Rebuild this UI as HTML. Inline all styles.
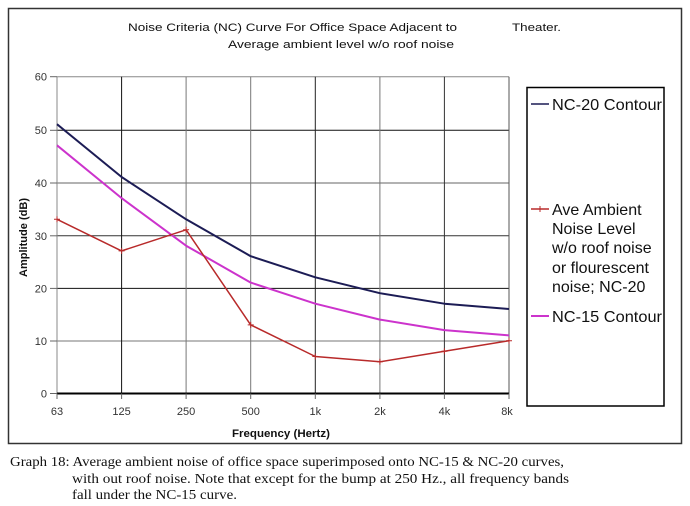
<!DOCTYPE html>
<html><head><meta charset="utf-8"><style>
html,body{margin:0;padding:0;background:#fff;}
svg{display:block;}
</style></head><body>
<svg width="690" height="506" viewBox="0 0 690 506" xmlns="http://www.w3.org/2000/svg">
<rect x="0" y="0" width="690" height="506" fill="#fff"/>
<!-- outer chart frame -->
<rect x="8.5" y="8.5" width="673" height="435" fill="#fff" stroke="#333" stroke-width="1.5"/>
<!-- title -->
<g font-family="Liberation Sans, sans-serif" font-size="11" fill="#111">
<text x="128" y="31" textLength="329" lengthAdjust="spacingAndGlyphs">Noise Criteria (NC) Curve For Office Space Adjacent to</text>
<text x="512" y="31" textLength="49" lengthAdjust="spacingAndGlyphs">Theater.</text>
<text x="228" y="48" textLength="226" lengthAdjust="spacingAndGlyphs">Average ambient level w/o roof noise</text>
</g>
<!-- gridlines -->
<g stroke-width="1">
<line x1="57" y1="76.7" x2="509" y2="76.7" stroke="#888"/>
<line x1="57" y1="130.3" x2="509" y2="130.3" stroke="#111"/>
<line x1="57" y1="183" x2="509" y2="183" stroke="#666"/>
<line x1="57" y1="235.8" x2="509" y2="235.8" stroke="#333"/>
<line x1="57" y1="288.4" x2="509" y2="288.4" stroke="#111"/>
<line x1="57" y1="341" x2="509" y2="341" stroke="#777"/>
<line x1="121.6" y1="76.7" x2="121.6" y2="393.5" stroke="#111"/>
<line x1="186.1" y1="76.7" x2="186.1" y2="393.5" stroke="#777"/>
<line x1="250.7" y1="76.7" x2="250.7" y2="393.5" stroke="#777"/>
<line x1="315.3" y1="76.7" x2="315.3" y2="393.5" stroke="#222"/>
<line x1="379.9" y1="76.7" x2="379.9" y2="393.5" stroke="#777"/>
<line x1="444.4" y1="76.7" x2="444.4" y2="393.5" stroke="#333"/>
<line x1="509" y1="76.7" x2="509" y2="393.5" stroke="#555"/>
<line x1="57" y1="76.7" x2="57" y2="393.5" stroke="#888"/>
<line x1="57" y1="393.5" x2="509" y2="393.5" stroke="#000" stroke-width="2"/>
</g>
<!-- ticks -->
<g stroke="#666" stroke-width="1">
<line x1="50" y1="76.7" x2="57" y2="76.7"/>
<line x1="50" y1="130.3" x2="57" y2="130.3"/>
<line x1="50" y1="183" x2="57" y2="183"/>
<line x1="50" y1="235.8" x2="57" y2="235.8"/>
<line x1="50" y1="288.4" x2="57" y2="288.4"/>
<line x1="50" y1="341" x2="57" y2="341"/>
<line x1="50" y1="393.5" x2="57" y2="393.5"/>
<line x1="57" y1="393.5" x2="57" y2="399"/>
<line x1="121.6" y1="393.5" x2="121.6" y2="399"/>
<line x1="186.1" y1="393.5" x2="186.1" y2="399"/>
<line x1="250.7" y1="393.5" x2="250.7" y2="399"/>
<line x1="315.3" y1="393.5" x2="315.3" y2="399"/>
<line x1="379.9" y1="393.5" x2="379.9" y2="399"/>
<line x1="444.4" y1="393.5" x2="444.4" y2="399"/>
<line x1="509" y1="393.5" x2="509" y2="399"/>
</g>
<!-- y tick labels -->
<g font-family="Liberation Sans, sans-serif" font-size="11" fill="#333" text-anchor="end">
<text x="47" y="80.5">60</text>
<text x="47" y="134">50</text>
<text x="47" y="187">40</text>
<text x="47" y="240">30</text>
<text x="47" y="292.5">20</text>
<text x="47" y="345">10</text>
<text x="47" y="397.5">0</text>
</g>
<!-- x tick labels -->
<g font-family="Liberation Sans, sans-serif" font-size="11" fill="#333" text-anchor="middle">
<text x="57" y="415">63</text>
<text x="121.6" y="415">125</text>
<text x="186.1" y="415">250</text>
<text x="250.7" y="415">500</text>
<text x="315.3" y="415">1k</text>
<text x="379.9" y="415">2k</text>
<text x="444.4" y="415">4k</text>
<text x="507" y="415">8k</text>
</g>
<!-- axis titles -->
<text x="232" y="437" font-family="Liberation Sans, sans-serif" font-size="11" font-weight="bold" fill="#111" textLength="98" lengthAdjust="spacingAndGlyphs">Frequency (Hertz)</text>
<text transform="translate(27,277) rotate(-90)" x="0" y="0" font-family="Liberation Sans, sans-serif" font-size="11" font-weight="bold" fill="#111" textLength="79" lengthAdjust="spacingAndGlyphs">Amplitude (dB)</text>
<!-- series -->
<polyline fill="none" stroke="#1c1c55" stroke-width="2" stroke-linejoin="round" points="57,124.2 121.6,177 186.1,219.3 250.7,256.2 315.3,277.3 379.9,293.2 444.4,303.7 509,309"/>
<polyline fill="none" stroke="#cc33cc" stroke-width="2" stroke-linejoin="round" points="57,145.3 121.6,198.1 186.1,245.7 250.7,282.6 315.3,303.7 379.9,319.6 444.4,330.1 509,335.4"/>
<polyline fill="none" stroke="#b82a2a" stroke-width="1.5" stroke-linejoin="round" points="57,219.3 121.6,250.9 186.1,229.8 250.7,324.9 315.3,356.5 379.9,361.8 444.4,351.3 509,340.7"/>
<g stroke="#b82a2a" stroke-width="1">
<path d="M54,219.3h6M57,216.3v6"/>
<path d="M118.6,250.9h6M121.6,247.9v6"/>
<path d="M183.1,229.8h6M186.1,226.8v6"/>
<path d="M247.7,324.9h6M250.7,321.9v6"/>
<path d="M312.3,356.5h6M315.3,353.5v6"/>
<path d="M376.9,361.8h6M379.9,358.8v6"/>
<path d="M441.4,351.3h6M444.4,348.3v6"/>
<path d="M506,340.7h6M509,337.7v6"/>
</g>
<!-- legend -->
<rect x="527" y="87.5" width="137" height="318.5" fill="#fff" stroke="#000" stroke-width="1.5"/>
<line x1="531" y1="104" x2="549" y2="104" stroke="#1c1c55" stroke-width="1.5"/>
<line x1="531" y1="209" x2="549" y2="209" stroke="#b82a2a" stroke-width="1.5"/>
<path d="M537,209h6M540,206v6" stroke="#b82a2a" stroke-width="1"/>
<line x1="531" y1="316" x2="549" y2="316" stroke="#cc33cc" stroke-width="2"/>
<g font-family="Liberation Sans, sans-serif" font-size="16" fill="#111">
<text x="552" y="110" textLength="110" lengthAdjust="spacingAndGlyphs">NC-20 Contour</text>
<text x="552" y="215">Ave Ambient</text>
<text x="552" y="234">Noise Level</text>
<text x="552" y="253">w/o roof noise</text>
<text x="552" y="273">or flourescent</text>
<text x="552" y="292">noise; NC-20</text>
<text x="552" y="322" textLength="110" lengthAdjust="spacingAndGlyphs">NC-15 Contour</text>
</g>
<!-- caption -->
<g font-family="Liberation Serif, serif" font-size="14" fill="#111">
<text x="10" y="466" textLength="554" lengthAdjust="spacingAndGlyphs">Graph 18: Average ambient noise of office space superimposed onto NC-15 &amp; NC-20 curves,</text>
<text x="72" y="483" textLength="497" lengthAdjust="spacingAndGlyphs">with out roof noise.  Note that except for the bump at 250 Hz., all frequency bands</text>
<text x="72" y="499" textLength="165" lengthAdjust="spacingAndGlyphs">fall under the NC-15 curve.</text>
</g>
</svg>
</body></html>
